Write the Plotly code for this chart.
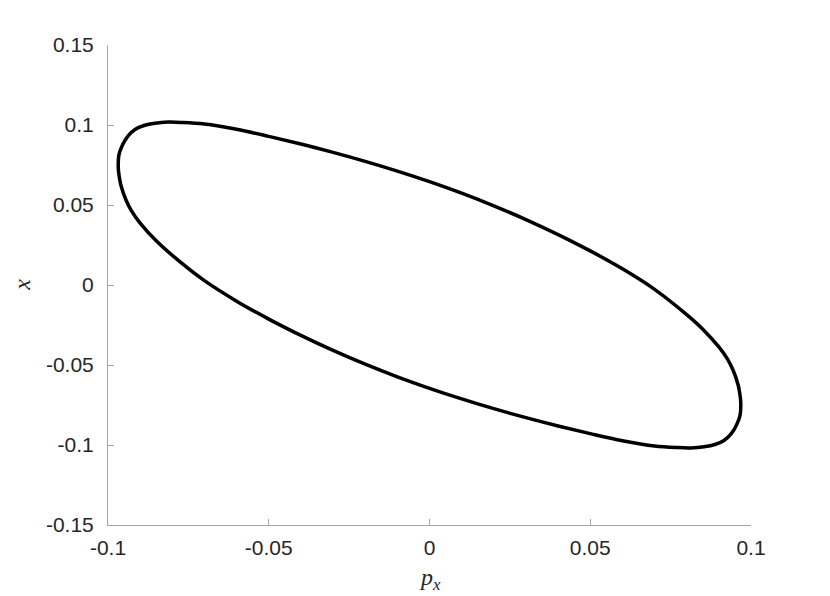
import plotly.graph_objects as go

# Closed orbit (p_x horizontal, x vertical)
px_vals = [-0.0968, -0.0966, -0.0955, -0.0938, -0.0916, -0.0888, -0.0854, -0.0813,
           -0.0770, -0.0700, -0.0600, -0.0500, -0.0400, -0.0300, -0.0200, -0.0100,
           0.0000, 0.0100, 0.0200, 0.0300, 0.0400, 0.0500, 0.0600, 0.0700,
           0.0800, 0.0850, 0.0900, 0.0927, 0.0945, 0.0960, 0.0965, 0.0968,
           0.0966, 0.0955, 0.0938, 0.0916, 0.0888, 0.0854, 0.0813,
           0.0770, 0.0700, 0.0600, 0.0500, 0.0400, 0.0300, 0.0200, 0.0100,
           0.0000, -0.0100, -0.0200, -0.0300, -0.0400, -0.0500, -0.0600, -0.0700,
           -0.0800, -0.0850, -0.0900, -0.0927, -0.0945, -0.0960, -0.0965, -0.0968]
x_vals = [0.0729, 0.0813, 0.0875, 0.0931, 0.0972, 0.0997, 0.1011, 0.1018,
          0.1016, 0.1006, 0.0973, 0.0929, 0.0881, 0.0829, 0.0773, 0.0712,
          0.0646, 0.0574, 0.0495, 0.0409, 0.0315, 0.0213, 0.0101, -0.0027,
          -0.0185, -0.0276, -0.0387, -0.0463, -0.0536, -0.0625, -0.0677, -0.0729,
          -0.0813, -0.0875, -0.0931, -0.0972, -0.0997, -0.1011, -0.1018,
          -0.1016, -0.1006, -0.0973, -0.0929, -0.0881, -0.0829, -0.0773, -0.0712,
          -0.0646, -0.0574, -0.0495, -0.0409, -0.0315, -0.0213, -0.0101, 0.0027,
          0.0185, 0.0276, 0.0387, 0.0463, 0.0536, 0.0625, 0.0677, 0.0729]

xtick_vals = [-0.1, -0.05, 0, 0.05, 0.1]
xtick_text = ["-0.1", "-0.05", "0", "0.05", "0.1"]
ytick_vals = [-0.15, -0.1, -0.05, 0, 0.05, 0.1, 0.15]
ytick_text = ["-0.15", "-0.1", "-0.05", "0", "0.05", "0.1", "0.15"]

fig = go.Figure()
fig.add_trace(go.Scatter(x=px_vals, y=x_vals, mode="lines",
                         line=dict(color="black", width=3.5, shape="spline", smoothing=1.0),
                         showlegend=False, hoverinfo="skip"))

axis_common = dict(showgrid=False, zeroline=False, showline=True, linecolor="#a6a6a6",
                   linewidth=1, ticks="inside", ticklen=6, tickcolor="#a6a6a6",
                   tickfont=dict(family="Liberation Sans, Arial, sans-serif", size=21, color="#262626"))

fig.update_xaxes(range=[-0.1, 0.1], tickvals=xtick_vals, ticktext=xtick_text,
                 ticklabelstandoff=4, **axis_common)
fig.update_yaxes(range=[-0.15, 0.15], tickvals=ytick_vals, ticktext=ytick_text,
                 ticklabelstandoff=9, **axis_common)

fig.update_layout(
    width=822, height=588,
    margin=dict(l=100, r=79, t=37, b=71),
    paper_bgcolor="white", plot_bgcolor="white",
    annotations=[
        dict(text="<i>p</i><sub><i>x</i></sub>", xref="paper", yref="paper",
             x=0.5, y=-0.112, xanchor="center", yanchor="middle", showarrow=False,
             font=dict(family="Liberation Serif, DejaVu Serif, serif", size=24, color="#262626")),
        dict(text="<i>x</i>", xref="paper", yref="paper",
             x=-0.134, y=0.5, xanchor="center", yanchor="middle", showarrow=False, textangle=-90,
             font=dict(family="Liberation Serif, DejaVu Serif, serif", size=24, color="#262626")),
    ],
)

fig.write_html("out.html")
